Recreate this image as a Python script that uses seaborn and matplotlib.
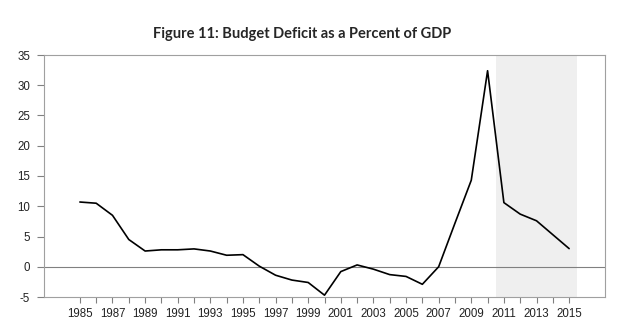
import matplotlib
matplotlib.use("Agg")
import matplotlib.pyplot as plt
import seaborn as sns
import pandas as pd

years = list(range(1985, 2016))
deficit = [10.7, 10.5, 8.5, 4.5, 2.6, 2.8, 2.8, 2.95, 2.6, 1.9, 2.0,
           0.1, -1.4, -2.2, -2.6, -4.7, -0.8, 0.3, -0.4, -1.3, -1.6,
           -2.9, 0.0, 7.2, 14.3, 32.4, 10.6, 8.7, 7.6, 5.3, 3.0]
year_labels = list(range(1985, 2016, 2))
y_ticks = [-5, 0, 5, 10, 15, 20, 25, 30, 35]
shade_span = (2010.5, 2015.5)
title = "Figure 11: Budget Deficit as a Percent of GDP"

df = pd.DataFrame({"year": years, "deficit": deficit})

sns.set_theme(style="white")
plt.rcParams["font.family"] = ["Liberation Sans", "DejaVu Sans"]

fig = plt.figure(figsize=(6.26, 3.30), dpi=100)
ax = fig.add_axes([44/626, 1 - 297/330, (605-44)/626, (297-55)/330])

ax.axvspan(*shade_span, color="#efefef", zorder=0, lw=0)
ax.axhline(0, color="#808080", lw=0.8, zorder=1)
sns.lineplot(data=df, x="year", y="deficit", color="black", lw=1.2, ax=ax, zorder=3)

ax.set_xlim(1982.8, 2017.2)
ax.set_ylim(-5, 35)
ax.set_xticks(year_labels)
ax.set_xticklabels([str(y) for y in year_labels], family="Liberation Sans")
ax.set_xticks(years, minor=True)
ax.set_yticks(y_ticks)
ax.set_yticklabels([str(v) for v in y_ticks], family="Liberation Sans")
ax.set_xlabel("")
ax.set_ylabel("")
ax.tick_params(axis="both", which="both", direction="out", width=0.8,
               color="#808080", labelsize=8.3, labelcolor="#222222")
ax.tick_params(axis="x", which="both", bottom=True, length=4, pad=4)
ax.tick_params(axis="y", left=True, length=5, pad=5)
for s in ax.spines.values():
    s.set_color("#a0a0a0")
    s.set_linewidth(0.8)

fig.text(0.482, 1 - 34/330, title, ha="center", va="center",
         fontsize=10.5, fontweight="bold", family=["Lato", "DejaVu Sans"])

fig.savefig("out.png", dpi=100)
